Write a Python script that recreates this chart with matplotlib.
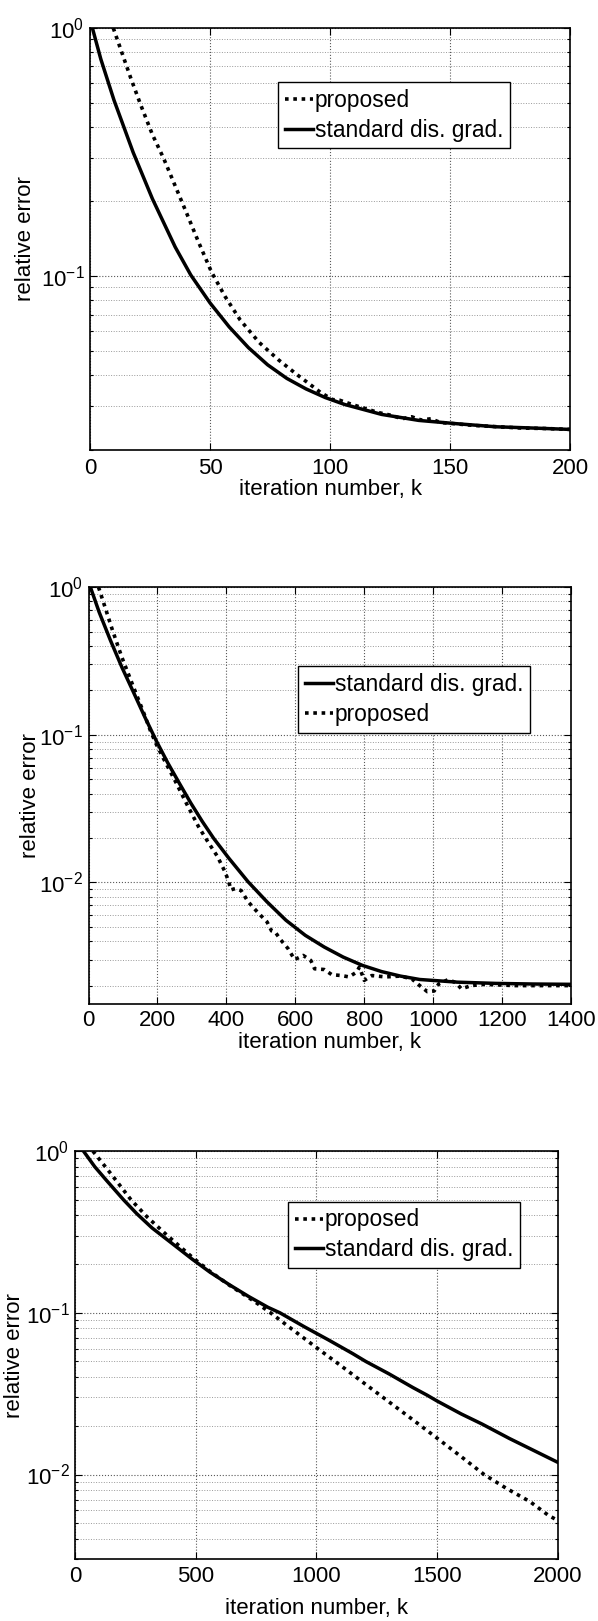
import matplotlib
matplotlib.use('Agg')
import matplotlib.pyplot as plt
from matplotlib.ticker import LogLocator, NullFormatter

plt.rcParams['font.family'] = ['Liberation Sans', 'DejaVu Sans']
plt.rcParams['mathtext.default'] = 'regular'
plt.rcParams['font.size'] = 16

# ---------------- data ----------------
# panel 1
k1_std = [1, 4.5, 10, 18, 26, 35.5, 42, 50, 58, 66, 74, 82, 90, 98, 106, 121.5,
          137, 153, 169, 185, 200]
e1_std = [1.0, 0.75, 0.512, 0.315, 0.205, 0.131, 0.101, 0.078, 0.0624, 0.0515, 0.0439,
          0.0387, 0.0351, 0.0324, 0.0304, 0.0277, 0.0262, 0.0254, 0.0247, 0.0244, 0.0241]
k1_prop = [9.7, 13.2, 17.2, 21.2, 26, 30.7, 35.5, 40.3, 45.1, 50.6, 56.2, 62.6, 70.5,
           78.5, 86.5, 91.2, 96, 101, 104, 110, 115, 120, 126, 130, 134, 138, 142, 146,
           150, 160, 170, 180, 190, 200]
e1_prop = [1.0, 0.80, 0.62, 0.488, 0.372, 0.298, 0.231, 0.179, 0.138, 0.104, 0.083,
           0.0665, 0.054, 0.046, 0.0399, 0.0369, 0.034, 0.0318, 0.0316, 0.0302, 0.0292,
           0.0282, 0.0274, 0.0266, 0.0271, 0.0263, 0.0266, 0.0257, 0.0255, 0.0250, 0.0247,
           0.0244, 0.0243, 0.0241]

# panel 2
k2_std = [5.5, 31, 64, 97, 131, 164, 197, 230, 263, 297, 330, 363, 407, 463, 518, 573,
          629, 684, 739, 795, 850, 905, 961, 1071, 1182, 1290, 1400]
e2_std = [1.0, 0.676, 0.434, 0.286, 0.193, 0.131, 0.0906, 0.0645, 0.0472, 0.0344, 0.0259,
          0.0199, 0.0146, 0.0101, 0.00738, 0.00554, 0.00438, 0.00365, 0.00312, 0.00274,
          0.00249, 0.00232, 0.0022, 0.00211, 0.00207, 0.00205, 0.00204]
k2_prop = [29, 48, 70, 97, 131, 158, 180, 197, 219, 252, 286, 319, 346, 374, 396, 407,
           413, 427, 443, 463, 490, 518, 531, 542, 557, 579, 598, 623, 645, 656, 684, 706,
           734, 756, 778, 786, 800, 822, 861, 905, 938, 961, 983, 1003, 1016, 1044, 1066,
           1082, 1110, 1149, 1237, 1348, 1400]
e2_prop = [1.0, 0.731, 0.507, 0.334, 0.209, 0.145, 0.106, 0.0859, 0.068, 0.0484, 0.0336,
           0.0239, 0.0189, 0.015, 0.0118, 0.0101, 0.0089, 0.0091, 0.0088, 0.0074, 0.0063,
           0.0054, 0.0047, 0.0046, 0.0041, 0.00356, 0.0030, 0.0032, 0.00296, 0.0026,
           0.00257, 0.00237, 0.00234, 0.00229, 0.00247, 0.00267, 0.00217, 0.00234,
           0.00229, 0.00232, 0.00222, 0.0020, 0.00182, 0.00184, 0.00205, 0.0022, 0.00209,
           0.0019, 0.0020, 0.00204, 0.0020, 0.0020, 0.0020]

# panel 3
k3_std = [35, 82, 130, 201, 256, 319, 400, 485, 560, 640, 720, 800, 849, 950, 1050, 1150,
          1205, 1300, 1400, 1458, 1500, 1600, 1687, 1800, 1900, 2000]
e3_std = [1.0, 0.80, 0.66, 0.5, 0.41, 0.335, 0.27, 0.215, 0.178, 0.149, 0.126, 0.108,
          0.1, 0.082, 0.068, 0.056, 0.05, 0.042, 0.0345, 0.031, 0.0285, 0.0237, 0.0205,
          0.0167, 0.0141, 0.0119]
k3_prop = [74, 150, 232, 300, 383, 493, 560, 640, 720, 760, 810, 900, 1000, 1078, 1100,
           1200, 1300, 1400, 1500, 1600, 1695, 1788, 1885, 1961, 2000]
e3_prop = [1.0, 0.72, 0.5, 0.39, 0.30, 0.216, 0.18, 0.148, 0.124, 0.113, 0.1, 0.079,
           0.061, 0.05, 0.0473, 0.0365, 0.0282, 0.0218, 0.0168, 0.0129, 0.01, 0.0082,
           0.0068, 0.0056, 0.0052]

labels = ['proposed', 'standard dis. grad.']

# ---------------- figure ----------------
fig = plt.figure(figsize=(5.98, 16.21), dpi=100)


def style(ax, xmax, xstep, ymin, xpad, labpad, ylab_x):
    ax.set_yscale('log')
    ax.set_xlim(0, xmax)
    ax.set_ylim(ymin, 1)
    ax.set_xticks(range(0, xmax + 1, xstep))
    ax.yaxis.set_minor_locator(LogLocator(base=10, subs=range(2, 10)))
    ax.yaxis.set_minor_formatter(NullFormatter())
    ax.tick_params(which='both', direction='in', top=True, right=True, width=0.8)
    ax.tick_params(which='major', length=5, labelsize=16)
    ax.tick_params(which='minor', length=2.5)
    ax.tick_params(axis='x', which='major', pad=xpad)
    ax.tick_params(axis='y', which='major', pad=4)
    ax.grid(True, which='major', ls=':', color='0.35', lw=0.8)
    ax.grid(True, which='minor', axis='y', ls=':', color='0.6', lw=0.7)
    for s in ax.spines.values():
        s.set_linewidth(1.2)
    ax.set_xlabel('iteration number, k', fontsize=16, labelpad=labpad)
    ax.set_ylabel('relative error', fontsize=16)
    ax.yaxis.set_label_coords(ylab_x, 0.5)


def add_legend(ax, anchor):
    ax.legend(loc='upper right', bbox_to_anchor=anchor, fancybox=False,
              edgecolor='k', framealpha=1, handlelength=1.2, handletextpad=0.1,
              borderpad=0.3, labelspacing=0.3, borderaxespad=0, fontsize=16.4)


dot = (0, (1, 1.3))
lw_s = 2.5
lw_d = 2.6

# panel 1
ax1 = fig.add_axes([0.1505, 0.7227, 0.8027, 0.2600])
ax1.plot(k1_prop, e1_prop, color='k', ls=dot, lw=lw_d, label=labels[0])
ax1.plot(k1_std, e1_std, color='k', ls='-', lw=lw_s, label=labels[1])
style(ax1, 200, 50, 0.02, 6, 0, -0.1115)
add_legend(ax1, (0.875, 0.872))

# panel 2
ax2 = fig.add_axes([0.148, 0.3806, 0.8069, 0.2572])
ax2.plot(k2_std, e2_std, color='k', ls='-', lw=lw_s, label=labels[1])
ax2.plot(k2_prop, e2_prop, color='k', ls=dot, lw=lw_d, label=labels[0])
style(ax2, 1400, 200, 0.0015, 4, 1, -0.099)
add_legend(ax2, (0.915, 0.81))

# panel 3
ax3 = fig.add_axes([0.1254, 0.0382, 0.8072, 0.2517])
ax3.plot(k3_prop, e3_prop, color='k', ls=dot, lw=lw_d, label=labels[0])
ax3.plot(k3_std, e3_std, color='k', ls='-', lw=lw_s, label=labels[1])
style(ax3, 2000, 500, 0.003, 5, 8, -0.104)
add_legend(ax3, (0.922, 0.876))

fig.savefig('out.png', dpi=100)
